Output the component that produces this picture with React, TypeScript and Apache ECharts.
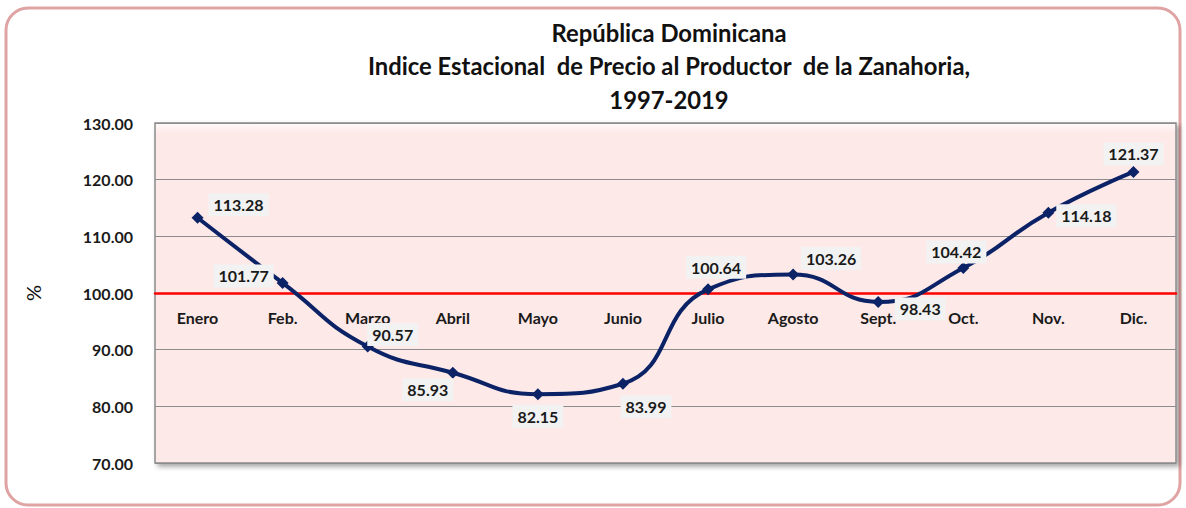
import React, { useEffect, useRef } from "react";
import * as echarts from "echarts";

const categories = ["Enero", "Feb.", "Marzo", "Abril", "Mayo", "Junio", "Julio", "Agosto", "Sept.", "Oct.", "Nov.", "Dic."];
const values = [113.28, 101.77, 90.57, 85.93, 82.15, 83.99, 100.64, 103.26, 98.43, 104.42, 114.18, 121.37];
const labelOffsets: [number, number][] = [
  [41, -13], [-39, -7], [25, -12], [-25, 17], [0, 22], [23, 23],
  [8, -22], [38, -16], [42, 7], [-7, -16], [38, 3], [0, -18],
];
const titleLines = ["República Dominicana", "Indice Estacional  de Precio al Productor  de la Zanahoria,", "1997-2019"];
const yMin = 70;
const yMax = 130;
const yInterval = 10;
const baseline = 100;

const FONT = "Lato, 'Open Sans', sans-serif";

export default function App() {
  const ref = useRef<HTMLDivElement>(null);
  useEffect(() => {
    document.body.style.margin = "0";
    if (!ref.current) return;
    const chart = echarts.init(ref.current, undefined, { renderer: "svg" });
    const gridTop = 123;
    const gridBottom = 45;
    const plotH = 508 - gridTop - gridBottom;
    const axisOffset = -plotH * (baseline - yMin) / (yMax - yMin);
    chart.setOption({
      animation: false,
      backgroundColor: "#ffffff",
      textStyle: { fontFamily: FONT },
      title: {
        text: titleLines.join("\n"),
        left: 664,
        textAlign: "center",
        top: 11,
        textStyle: { fontFamily: FONT, fontSize: 23.8, fontWeight: "bold", color: "#111", lineHeight: 33.5 },
      },
      graphic: [
        {
          type: "rect",
          shape: { x: 6, y: 8, width: 1174, height: 497, r: 22 },
          style: { fill: "none", stroke: "#E0A3A3", lineWidth: 3 },
          z: -1,
        },
      ],
      grid: {
        left: 155,
        right: 10,
        top: gridTop,
        bottom: gridBottom,
        show: true,
        backgroundColor: {
          type: "linear", x: 0, y: 0, x2: 0, y2: 1,
          colorStops: [
            { offset: 0, color: "#FFFAFA" },
            { offset: 0.03, color: "#FDE9E8" },
            { offset: 1, color: "#FDE9E8" },
          ],
        },
        borderColor: "#8C8C8C",
        borderWidth: 1.5,
        shadowColor: "rgba(0,0,0,0.35)",
        shadowBlur: 5,
        shadowOffsetX: 3,
        shadowOffsetY: 3,
      },
      xAxis: {
        type: "category",
        data: categories,
        boundaryGap: true,
        offset: axisOffset,
        axisLine: { show: true, onZero: false, lineStyle: { color: "#FF0000", width: 2.5 } },
        axisTick: { show: false },
        axisLabel: { fontFamily: FONT, fontSize: 16, fontWeight: "bold", color: "#1a1a1a", margin: 16 },
        z: 3,
      },
      yAxis: {
        type: "value",
        min: yMin,
        max: yMax,
        interval: yInterval,
        name: "%",
        nameLocation: "middle",
        nameGap: 112,
        nameRotate: 90,
        nameTextStyle: { fontFamily: FONT, fontSize: 20, color: "#111" },
        axisLine: { show: false },
        axisTick: { show: false },
        axisLabel: {
          fontFamily: FONT,
          fontSize: 16,
          fontWeight: "bold",
          color: "#1a1a1a",
          margin: 22,
          formatter: (v: number) => v.toFixed(2),
        },
        splitLine: { show: true, lineStyle: { color: "#8C8C8C", width: 1.2 } },
      },
      series: [
        {
          type: "line",
          data: values.map((v, i) => ({
            value: v,
            label: { offset: labelOffsets[i] },
          })),
          smooth: 0.5,
          symbol: "diamond",
          symbolSize: 12,
          lineStyle: { color: "#0B2366", width: 4 },
          itemStyle: { color: "#0B2366" },
          z: 4,
          label: {
            show: true,
            position: "inside",
            formatter: (p: any) => Number(p.value).toFixed(2),
            fontFamily: FONT,
            fontSize: 16,
            fontWeight: "bold",
            color: "#1a1a1a",
            backgroundColor: "#F2F2F2",
            padding: [4, 5, 3, 5],
          },
        },
      ],
    });
    return () => chart.dispose();
  }, []);
  return <div ref={ref} style={{ width: 1186, height: 508 }} />;
}
